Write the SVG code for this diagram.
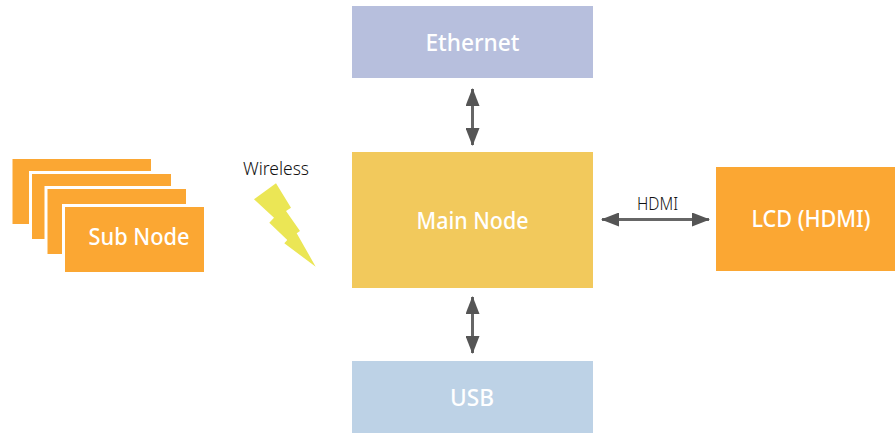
<svg xmlns="http://www.w3.org/2000/svg" width="895" height="433" viewBox="0 0 895 433">
<style>
text{font-family:"Noto Sans","Open Sans",sans-serif;text-anchor:middle}
.w{fill:#fff;font-size:24px;font-weight:500}
.d{fill:#111;font-size:18px;font-weight:300}
.o{fill:#fba733;stroke:#fff;stroke-width:6;paint-order:stroke}
.c{stroke:#666;stroke-width:3;fill:none;marker-start:url(#a);marker-end:url(#a)}
</style>
<defs><marker id="a" viewBox="0 0 18 14" refX="17" refY="7" markerUnits="userSpaceOnUse" markerWidth="18" markerHeight="14" orient="auto-start-reverse"><path d="M18 7L0 0V14Z" fill="#555"/></marker></defs>
<rect width="895" height="433" fill="#fff"/>
<g id="connectors">
<path class="c" d="M472.500 89V145"/>
<path class="c" d="M472.500 297V353"/>
<path class="c" d="M602 219.500H709"/>
</g>
<g id="ethernet"><rect x="352" y="6" width="241" height="72" fill="#b7bfdd"/><text class="w" x="472.500" y="51" textLength="94" lengthAdjust="spacingAndGlyphs">Ethernet</text></g>
<g id="main-node"><rect x="352" y="152" width="241" height="136" fill="#f2c95c"/><text class="w" x="472.500" y="229" textLength="112" lengthAdjust="spacingAndGlyphs">Main Node</text></g>
<g id="usb"><rect x="352" y="361" width="241" height="72" fill="#bdd2e6"/><text class="w" x="472" y="406" textLength="44" lengthAdjust="spacingAndGlyphs">USB</text></g>
<g id="lcd"><rect x="716" y="167" width="179" height="104" fill="#fba733"/><text class="w" x="811" y="227" textLength="119" lengthAdjust="spacingAndGlyphs">LCD (HDMI)</text></g>
<g id="sub-node">
<rect class="o" x="12.500" y="159" width="138.500" height="65"/>
<rect class="o" x="32" y="174" width="139" height="65"/>
<rect class="o" x="47.500" y="189" width="138.500" height="65"/>
<rect class="o" x="65" y="207" width="139" height="65"/>
<text class="w" x="139" y="245" textLength="101" lengthAdjust="spacingAndGlyphs">Sub Node</text>
</g>
<g id="wireless">
<text class="d" x="276" y="175" textLength="66" lengthAdjust="spacingAndGlyphs">Wireless</text>
<path d="M276 183.300L254 199.300L274 217.700L269.300 222.700L287.300 240L284.300 243.300L315.700 266.700L296.700 233.300L300 231L286 211L291 207.700Z" fill="#ebe655"/>
</g>
<text class="d" x="657.500" y="210" textLength="41" lengthAdjust="spacingAndGlyphs">HDMI</text>
</svg>
